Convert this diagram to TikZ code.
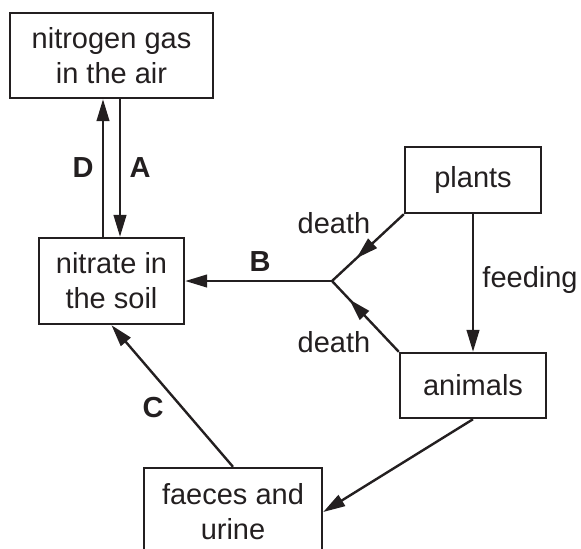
\documentclass[tikz,border=0pt]{standalone}
\usepackage{fontspec}
\setmainfont{Liberation Sans}
\usetikzlibrary{arrows.meta,decorations.markings}
\definecolor{ink}{RGB}{35,31,32}
\begin{document}
\begin{tikzpicture}[x=0.5pt,y=-0.5pt,
  box/.style={draw=ink, text=ink, line width=1.2pt, inner sep=0pt, align=center,
    font=\fontsize{14.5}{17.5}\selectfont},
  lbl/.style={text=ink, font=\fontsize{14.5}{17.5}\selectfont, inner sep=0pt},
  blbl/.style={text=ink, font=\fontsize{14.5}{17.5}\selectfont\bfseries, inner sep=0pt},
  arr/.style={draw=ink, line width=1.2pt, -{Triangle[length=11pt,width=6.3pt]}},
  midarr/.style={draw=ink, line width=1.2pt, postaction={decorate},
    decoration={markings, mark=at position #1 with {\arrow[ink]{Triangle[length=11pt,width=6.3pt]}}}}
]
\useasboundingbox (0,0) rectangle (581,548);
\clip (0,0) rectangle (581,548);

\node[box, minimum width=101.5pt, minimum height=42.5pt] (nitrogen) at (111.5,55.5) {nitrogen gas\\in the air};
\node[box, minimum width=72.5pt, minimum height=43pt] (nitrate) at (111.5,281) {nitrate in\\the soil};
\node[box, minimum width=68pt, minimum height=33pt] (plants) at (473,180) {plants};
\node[box, minimum width=73pt, minimum height=32.5pt] (animals) at (473,385.5) {animals};
\node[box, minimum width=89pt, minimum height=44pt] (faeces) at (233,512) {faeces and\\urine};

\coordinate (j) at (332,281);

% D and A
\draw[arr] ([xshift=-4.25pt]nitrate.north) -- ([xshift=-4.25pt]nitrogen.south);
\draw[arr] ([xshift=4.25pt]nitrogen.south) -- ([xshift=4.25pt]nitrate.north);
\node[blbl] (lD) at (83,168) {D};
\node[blbl] (lA) at (140,168) {A};

% B
\draw[arr] (j) -- (j -| nitrate.east);
\node[blbl] (lB) at (260,262) {B};

% death branches
\draw[midarr=0.66] (plants.south west) -- (j);
\draw[midarr=0.74] (animals.north west) -- (j);
\node[lbl] (d1) at (334,223) {death};
\node[lbl] (d2) at (334,342) {death};

% feeding
\draw[arr] (plants.south) -- (animals.north);
\node[lbl] (lf) at (530,280) {feeding};

% animals to faeces
\draw[arr] (animals.south) -- (faeces.east);

% C
\draw[arr] (faeces.north) -- (nitrate.south);
\node[blbl] (lC) at (153,407) {C};
\end{tikzpicture}
\end{document}
